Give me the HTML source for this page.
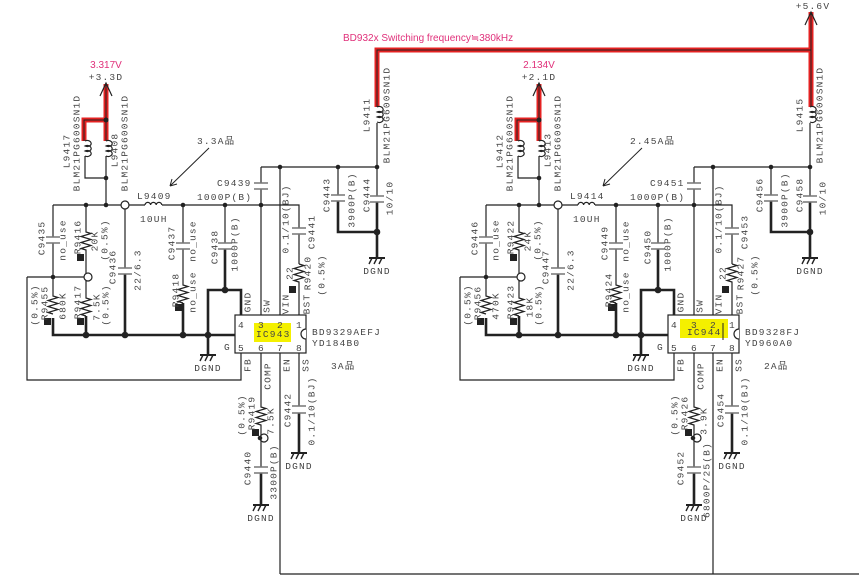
<!DOCTYPE html>
<html><head><meta charset="utf-8"><style>
html,body{margin:0;padding:0;background:#fff;}
svg{display:block;}
text{font-family:"Liberation Mono","Noto Sans CJK JP",monospace;font-size:9.5px;fill:#444;letter-spacing:1.2px;}
.v{text-anchor:middle;dominant-baseline:central;}
.c{text-anchor:middle;}
.p{font-family:"Liberation Sans",sans-serif;fill:#e0307a;letter-spacing:0;font-size:10px;}
</style></head><body>
<svg width="859" height="583" viewBox="0 0 859 583" xmlns="http://www.w3.org/2000/svg">
<defs>
<g id="gnd" stroke="#222" stroke-width="1.4" fill="none">
<line x1="-8" y1="0" x2="8" y2="0" stroke-width="2"/>
<line x1="-5" y1="0" x2="-8" y2="6"/><line x1="0" y1="0" x2="-3" y2="6"/><line x1="5" y1="0" x2="2" y2="6"/>
</g>
<g id="s" fill="none" stroke="#222" stroke-width="1.2">
<path d="M85 141 a4 3 0 1 1 0 5 a4 3 0 1 1 0 5 a4 3 0 1 1 0 5"/>
<path d="M106 141 a4 3 0 1 1 0 5 a4 3 0 1 1 0 5 a4 3 0 1 1 0 5"/>
<path d="M85 156 V178 H106 M106 156 V205"/>
<path d="M53 205 H145 M162 205 H299 V228 M299 234 V264"/>
<path d="M145 205 a2.8 2.6 0 1 1 5.6 0 a2.8 2.6 0 1 1 5.6 0 a2.8 2.6 0 1 1 5.6 0"/>
<path d="M299 264 l5 1.5 l-10 3 l10 3 l-10 3 l10 3 l-10 3 l5 1.5 V315"/>
<path d="M53 205 V237 M53 243 V296 l5 1.5 l-10 3 l10 3 l-10 3 l10 3 l-10 3 l5 1.5"/>
<path d="M86 205 V232 l5 1.5 l-10 3 l10 3 l-10 3 l10 3 l-10 3 l5 1.5 V298 l5 1.5 l-10 3 l10 3 l-10 3 l10 3 l-10 3 l5 1.5"/>
<path d="M125 205 V268 M183 205 V243 M183 249 V285 l5 1.5 l-10 3 l10 3 l-10 3 l10 3 l-10 3 l5 1.5 M225 205 V243"/>
<path d="M261 167 V183 M261 189 V315 M280 167 V315 M261 167 H377 M338 167 V195 M377 123 V196"/>
<path d="M27 277 H84 M27 277 V380 H241 V353"/>
<path d="M261 353 V407 l5 1.5 l-10 3 l10 3 l-10 3 l10 3 l-10 3 l5 1.5 V467 M299 353 V406 M280 353 V574"/>
<g stroke-width="2.6">
<path d="M53 318 V335 H235 M86 316 V335 M125 274 V335 M183 303 V335 M225 249 V290 M241 315 V290 H208 V355"/>
<path d="M338 201 V232 H377 M377 202 V258 M261 473 V505 M299 413 V453"/>
</g>
<g stroke="#777" stroke-width="1.6">
<path d="M292 228 H306 M292 234 H306 M46 237 H60 M46 243 H60 M118 268 H132 M118 274 H132 M176 243 H190 M176 249 H190 M218 243 H232 M218 249 H232"/>
<path d="M254 183 H268 M254 189 H268 M331 195 H345 M331 201 H345 M370 196 H384 M370 202 H384 M254 467 H268 M254 473 H268 M292 406 H306 M292 413 H306"/>
</g>
<path d="M377 107 a4 3 0 1 1 0 5 a4 3 0 1 1 0 5 a4 3 0 1 1 0 5"/>
<rect x="235" y="315" width="71" height="38" fill="#fff"/>
<path d="M306 329 a5 5 0 0 0 0 10" fill="#fff"/>
<circle cx="125" cy="205" r="4" fill="#fff"/><circle cx="88" cy="277" r="4" fill="#fff"/><circle cx="264" cy="438" r="4" fill="#fff"/>
<g fill="#222" stroke="none">
<circle cx="106" cy="120" r="2.5"/><circle cx="106" cy="178" r="2.3"/><circle cx="86" cy="205" r="2.3"/><circle cx="106" cy="205" r="2.3"/><circle cx="183" cy="205" r="2.3"/><circle cx="225" cy="205" r="2.3"/><circle cx="261" cy="205" r="2.3"/>
<circle cx="280" cy="167" r="2.3"/><circle cx="338" cy="167" r="2.3"/><circle cx="377" cy="167" r="2.3"/><circle cx="377" cy="232" r="3.3"/><circle cx="53" cy="277" r="2.3"/>
<circle cx="86" cy="335" r="3.3"/><circle cx="125" cy="335" r="3.3"/><circle cx="183" cy="335" r="3.3"/><circle cx="208" cy="335" r="3.3"/><circle cx="225" cy="290" r="3.3"/><circle cx="260" cy="438" r="2.3"/>
<rect x="77" y="254" width="7" height="7"/><rect x="44" y="318" width="7" height="7"/><rect x="77" y="318" width="7" height="7"/><rect x="175" y="304" width="7" height="7"/><rect x="289" y="286" width="7" height="7"/><rect x="252" y="429" width="7" height="7"/>
</g>
<use href="#gnd" x="208" y="355"/><use href="#gnd" x="377" y="258"/><use href="#gnd" x="261" y="505"/><use href="#gnd" x="299" y="453"/>
</g>
</defs>

<g fill="none" stroke-linejoin="miter">
<path d="M106 84 V141 M106 120 H84 V141 M539 84 V141 M539 120 H517 V141 M377 107 V50 H811 M811 12 V107" stroke="#e52222" stroke-width="5"/>
<path d="M106 84 V141 M106 120 H84 V141 M539 84 V141 M539 120 H517 V141 M377 107 V50 H811 M811 12 V107" stroke="#222" stroke-width="1"/>
<path d="M100 96 L106 83 L112 96 M533 96 L539 83 L545 96 M805 25 L811 12 L817 25" stroke="#222" stroke-width="1.2"/>
<path d="M280 574 H859" stroke="#222" stroke-width="1.2"/>
<path d="M209 148 L170 186 M170 186 l2 -7 M170 186 l7 -2" stroke="#222" stroke-width="1"/>
<path d="M642 148 L603 186 M603 186 l2 -7 M603 186 l7 -2" stroke="#222" stroke-width="1"/>
</g>
<use href="#s"/>
<use href="#s" transform="translate(433 0)"/>

<rect x="254" y="323" width="37" height="19" fill="#f4f000"/>
<rect x="680" y="319" width="48" height="19" fill="#f4f000"/>
<line x1="723" y1="323" x2="723" y2="340" stroke="#222" stroke-width="1"/>

<text class="p" x="343" y="41">BD932x Switching frequency≒380kHz</text>
<text class="p c" x="106" y="68">3.317V</text>
<text class="p c" x="539" y="68">2.134V</text>
<text class="c" x="106" y="80">+3.3D</text>
<text class="c" x="539" y="80">+2.1D</text>
<text class="c" x="813" y="9">+5.6V</text>

<g>
<text class="v" transform="translate(67 151) rotate(-90)">L9417</text>
<text class="v" transform="translate(77 143) rotate(-90)">BLM21PG600SN1D</text>
<text class="v" transform="translate(115 150) rotate(-90)">L9408</text>
<text class="v" transform="translate(125 143) rotate(-90)">BLM21PG600SN1D</text>
<text class="v" transform="translate(367 115) rotate(-90)">L9411</text>
<text class="v" transform="translate(387 115) rotate(-90)">BLM21PG600SN1D</text>
<text class="v" transform="translate(42 238) rotate(-90)">C9435</text>
<text class="v" transform="translate(63 240) rotate(-90)">no_use</text>
<text class="v" transform="translate(78 237) rotate(-90)">R9416</text>
<text class="v" transform="translate(95 241) rotate(-90)">20K</text>
<text class="v" transform="translate(105 240) rotate(-90)">(0.5%)</text>
<text class="v" transform="translate(113 267) rotate(-90)">C9436</text>
<text class="v" transform="translate(138 270) rotate(-90)">22/6.3</text>
<text class="v" transform="translate(172 243) rotate(-90)">C9437</text>
<text class="v" transform="translate(193 241) rotate(-90)">no_use</text>
<text class="v" transform="translate(176 290) rotate(-90)">R9418</text>
<text class="v" transform="translate(193 292) rotate(-90)">no_use</text>
<text class="v" transform="translate(215 247) rotate(-90)">C9438</text>
<text class="v" transform="translate(235 244) rotate(-90)">1000P(B)</text>
<text class="v" transform="translate(286 219) rotate(-90)">0.1/10(BJ)</text>
<text class="v" transform="translate(312 232) rotate(-90)">C9441</text>
<text class="v" transform="translate(290 273) rotate(-90)">22</text>
<text class="v" transform="translate(308 273) rotate(-90)">R9420</text>
<text class="v" transform="translate(322 275) rotate(-90)">(0.5%)</text>
<text class="v" transform="translate(248 302) rotate(-90)">GND</text>
<text class="v" transform="translate(267 306) rotate(-90)">SW</text>
<text class="v" transform="translate(286 304) rotate(-90)">VIN</text>
<text class="v" transform="translate(307 304) rotate(-90)">BST</text>
<text class="v" transform="translate(45 303) rotate(-90)">R9455</text>
<text class="v" transform="translate(35 305) rotate(-90)">(0.5%)</text>
<text class="v" transform="translate(63 306) rotate(-90)">680K</text>
<text class="v" transform="translate(78 302) rotate(-90)">R9417</text>
<text class="v" transform="translate(97 307) rotate(-90)">7.5K</text>
<text class="v" transform="translate(106 305) rotate(-90)">(0.5%)</text>
<text class="v" transform="translate(327 195) rotate(-90)">C9443</text>
<text class="v" transform="translate(352 200) rotate(-90)">3900P(B)</text>
<text class="v" transform="translate(367 195) rotate(-90)">C9444</text>
<text class="v" transform="translate(390 198) rotate(-90)">10/10</text>
<text class="v" transform="translate(248 365) rotate(-90)">FB</text>
<text class="v" transform="translate(268 376) rotate(-90)">COMP</text>
<text class="v" transform="translate(287 365) rotate(-90)">EN</text>
<text class="v" transform="translate(306 365) rotate(-90)">SS</text>
<text class="v" transform="translate(242 415) rotate(-90)">(0.5%)</text>
<text class="v" transform="translate(252 413) rotate(-90)">R9419</text>
<text class="v" transform="translate(271 421) rotate(-90)">7.5K</text>
<text class="v" transform="translate(248 468) rotate(-90)">C9440</text>
<text class="v" transform="translate(274 472) rotate(-90)">3300P(B)</text>
<text class="v" transform="translate(288 410) rotate(-90)">C9442</text>
<text class="v" transform="translate(312 411) rotate(-90)">0.1/10(BJ)</text>
<text x="217" y="186">C9439</text>
<text x="197" y="200">1000P(B)</text>
<text x="137" y="199">L9409</text>
<text x="140" y="222">10UH</text>
<text x="197" y="144">3.3A品</text>
<text x="312" y="335">BD9329AEFJ</text>
<text x="312" y="346">YD184B0</text>
<text x="331" y="369">3A品</text>
<text x="224" y="350">G</text>
<text x="238" y="328">4</text><text x="258" y="328">3</text><text x="277" y="328">2</text><text x="296" y="328">1</text>
<text x="238" y="351">5</text><text x="258" y="351">6</text><text x="277" y="351">7</text><text x="296" y="351">8</text>
<text x="256" y="337" fill="#555">IC943</text>
<text class="c" x="208" y="371">DGND</text>
<text class="c" x="377" y="274">DGND</text>
<text class="c" x="261" y="521">DGND</text>
<text class="c" x="299" y="469">DGND</text>
</g>

<g transform="translate(433 0)">
<text class="v" transform="translate(67 151) rotate(-90)">L9412</text>
<text class="v" transform="translate(77 143) rotate(-90)">BLM21PG600SN1D</text>
<text class="v" transform="translate(115 150) rotate(-90)">L9413</text>
<text class="v" transform="translate(125 143) rotate(-90)">BLM21PG600SN1D</text>
<text class="v" transform="translate(367 115) rotate(-90)">L9415</text>
<text class="v" transform="translate(387 115) rotate(-90)">BLM21PG600SN1D</text>
<text class="v" transform="translate(42 238) rotate(-90)">C9446</text>
<text class="v" transform="translate(63 240) rotate(-90)">no_use</text>
<text class="v" transform="translate(78 237) rotate(-90)">R9422</text>
<text class="v" transform="translate(95 241) rotate(-90)">24K</text>
<text class="v" transform="translate(105 240) rotate(-90)">(0.5%)</text>
<text class="v" transform="translate(113 267) rotate(-90)">C9447</text>
<text class="v" transform="translate(138 270) rotate(-90)">22/6.3</text>
<text class="v" transform="translate(172 243) rotate(-90)">C9449</text>
<text class="v" transform="translate(193 241) rotate(-90)">no_use</text>
<text class="v" transform="translate(176 290) rotate(-90)">R9424</text>
<text class="v" transform="translate(193 292) rotate(-90)">no_use</text>
<text class="v" transform="translate(215 247) rotate(-90)">C9450</text>
<text class="v" transform="translate(235 244) rotate(-90)">1000P(B)</text>
<text class="v" transform="translate(286 219) rotate(-90)">0.1/10(BJ)</text>
<text class="v" transform="translate(312 232) rotate(-90)">C9453</text>
<text class="v" transform="translate(290 273) rotate(-90)">22</text>
<text class="v" transform="translate(308 273) rotate(-90)">R9427</text>
<text class="v" transform="translate(322 275) rotate(-90)">(0.5%)</text>
<text class="v" transform="translate(248 302) rotate(-90)">GND</text>
<text class="v" transform="translate(267 306) rotate(-90)">SW</text>
<text class="v" transform="translate(286 304) rotate(-90)">VIN</text>
<text class="v" transform="translate(307 304) rotate(-90)">BST</text>
<text class="v" transform="translate(45 303) rotate(-90)">R9456</text>
<text class="v" transform="translate(35 305) rotate(-90)">(0.5%)</text>
<text class="v" transform="translate(63 306) rotate(-90)">470K</text>
<text class="v" transform="translate(78 302) rotate(-90)">R9423</text>
<text class="v" transform="translate(97 307) rotate(-90)">18K</text>
<text class="v" transform="translate(106 305) rotate(-90)">(0.5%)</text>
<text class="v" transform="translate(327 195) rotate(-90)">C9456</text>
<text class="v" transform="translate(352 200) rotate(-90)">3900P(B)</text>
<text class="v" transform="translate(367 195) rotate(-90)">C9458</text>
<text class="v" transform="translate(390 198) rotate(-90)">10/10</text>
<text class="v" transform="translate(248 365) rotate(-90)">FB</text>
<text class="v" transform="translate(268 376) rotate(-90)">COMP</text>
<text class="v" transform="translate(287 365) rotate(-90)">EN</text>
<text class="v" transform="translate(306 365) rotate(-90)">SS</text>
<text class="v" transform="translate(242 415) rotate(-90)">(0.5%)</text>
<text class="v" transform="translate(252 413) rotate(-90)">R9426</text>
<text class="v" transform="translate(271 421) rotate(-90)">3.9K</text>
<text class="v" transform="translate(248 468) rotate(-90)">C9452</text>
<text class="v" transform="translate(274 480) rotate(-90)">6800P/25(B)</text>
<text class="v" transform="translate(288 410) rotate(-90)">C9454</text>
<text class="v" transform="translate(312 411) rotate(-90)">0.1/10(BJ)</text>
<text x="217" y="186">C9451</text>
<text x="197" y="200">1000P(B)</text>
<text x="137" y="199">L9414</text>
<text x="140" y="222">10UH</text>
<text x="197" y="144">2.45A品</text>
<text x="312" y="335">BD9328FJ</text>
<text x="312" y="346">YD960A0</text>
<text x="331" y="369">2A品</text>
<text x="224" y="350">G</text>
<text x="238" y="328">4</text><text x="258" y="328">3</text><text x="277" y="328">2</text><text x="296" y="328">1</text>
<text x="238" y="351">5</text><text x="258" y="351">6</text><text x="277" y="351">7</text><text x="296" y="351">8</text>
<text x="254" y="335" fill="#555">IC944</text>
<text class="c" x="208" y="371">DGND</text>
<text class="c" x="377" y="274">DGND</text>
<text class="c" x="261" y="521">DGND</text>
<text class="c" x="299" y="469">DGND</text>
</g>
</svg>
</body></html>
